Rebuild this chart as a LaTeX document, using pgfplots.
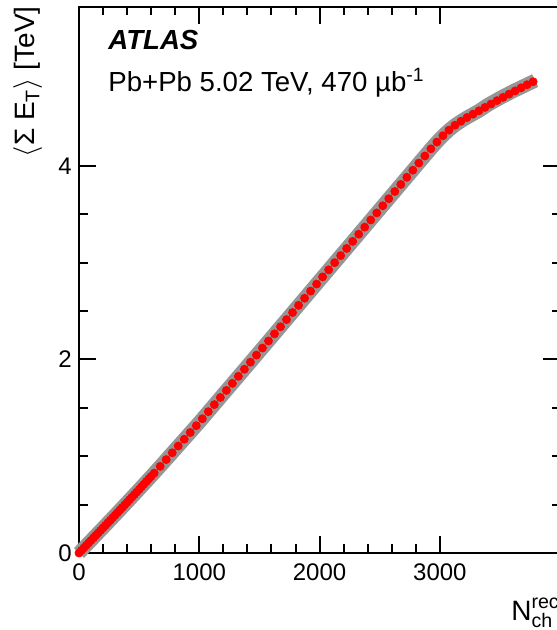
\documentclass[border=0pt]{standalone}
\usepackage{fontspec}
\setmainfont{Liberation Sans}
\usepackage{amsmath}
\usepackage{pgfplots}
\pgfplotsset{compat=1.18}
\definecolor{bandgray}{RGB}{150,150,150}

\begin{document}
\begin{tikzpicture}
\begin{axis}[
  scale only axis,
  width=240.6pt, height=273pt,
  xmin=0, xmax=4000, ymin=0, ymax=5.64,
  axis line style={line width=1pt},
  every tick/.style={line width=1pt, black},
  major tick length=8.5pt, minor tick length=4.25pt,
  xtick={0,1000,2000,3000}, ytick={0,2,4},
  minor x tick num=4, minor y tick num=3,
  xtick pos=both, ytick pos=both,
  tick align=inside,
  /pgf/number format/assume math mode=true,
  /pgf/number format/1000 sep={},
  ticklabel style={font=\fontsize{12}{14}\selectfont},
  xticklabel style={inner sep=0pt, yshift=-5pt},
  yticklabel style={inner sep=0pt, xshift=-3.5pt},
  clip=false,
]
% systematic band
\addplot[bandgray, line width=7pt, line cap=butt, line join=round, mark=none] table {
x y
0 0
100 0.130
200 0.260
300 0.391
400 0.523
500 0.657
600 0.792
700 0.93
800 1.07
900 1.21
1000 1.35
1200 1.642
1400 1.934
1600 2.227
1800 2.521
2000 2.815
2200 3.109
2400 3.403
2600 3.697
2800 3.991
2875 4.101
2925 4.175
2975 4.245
3025 4.310
3075 4.368
3125 4.418
3175 4.460
3225 4.498
3275 4.533
3325 4.568
3400 4.63
3500 4.70
3600 4.765
3700 4.825
3792 4.88
};
% data points
\addplot[only marks, mark=*, mark size=2pt, mark options={draw=red, fill=red}] table {
x y
0 0
20 0.026
40 0.052
60 0.078
80 0.104
100 0.130
120 0.156
140 0.182
160 0.208
180 0.234
200 0.260
220 0.286
240 0.312
260 0.338
280 0.364
300 0.391
320 0.417
340 0.444
360 0.470
380 0.497
400 0.523
420 0.550
440 0.577
460 0.603
480 0.630
500 0.657
520 0.684
540 0.711
560 0.738
580 0.765
600 0.792
625 0.825
675 0.895
725 0.965
775 1.035
825 1.105
875 1.175
925 1.245
975 1.315
1025 1.387
1075 1.460
1125 1.533
1175 1.606
1225 1.679
1275 1.752
1325 1.825
1375 1.898
1425 1.971
1475 2.044
1525 2.117
1575 2.190
1625 2.264
1675 2.337
1725 2.411
1775 2.484
1825 2.558
1875 2.631
1925 2.705
1975 2.778
2025 2.852
2075 2.925
2125 2.999
2175 3.072
2225 3.146
2275 3.219
2325 3.293
2375 3.366
2425 3.440
2475 3.513
2525 3.587
2575 3.660
2625 3.734
2675 3.807
2725 3.881
2775 3.954
2825 4.028
2875 4.101
2925 4.175
2975 4.245
3025 4.310
3075 4.368
3125 4.418
3175 4.460
3225 4.498
3275 4.533
3325 4.568
3375 4.603
3425 4.638
3475 4.673
3525 4.706
3575 4.740
3625 4.773
3675 4.805
3725 4.837
3775 4.868
};
\coordinate (TL) at (rel axis cs:0,1);
\coordinate (BL) at (rel axis cs:0,0);
\coordinate (BR) at (rel axis cs:1,0);
\end{axis}
\node[anchor=base west, font=\fontsize{13.8}{16}\selectfont\bfseries\itshape, inner sep=0pt] at ([xshift=14.5pt,yshift=-21.5pt]TL) {ATLAS};
\node[anchor=base west, font=\fontsize{13.8}{16}\selectfont, inner sep=0pt] at ([xshift=14.5pt,yshift=-42.5pt]TL) {Pb+Pb 5.02 TeV, 470 µb\textsuperscript{-1}};
\node[rotate=90, anchor=base east, font=\fontsize{14}{16}\selectfont, inner sep=0pt] at ([xshift=-22pt,yshift=0.5pt]TL) {$\langle\text{Σ E}_{\text{T}}\rangle$ [TeV]};
\node[anchor=base east, font=\fontsize{14}{16}\selectfont, inner sep=0pt] at ([yshift=-33.5pt]BR) {$\text{N}^{\text{rec}}_{\text{ch}}$};
\pgfresetboundingbox
\path[use as bounding box] ([xshift=-39.5pt,yshift=3.5pt]TL) rectangle ([xshift=238.5pt,yshift=-38.5pt]BL);
\end{tikzpicture}
\end{document}
